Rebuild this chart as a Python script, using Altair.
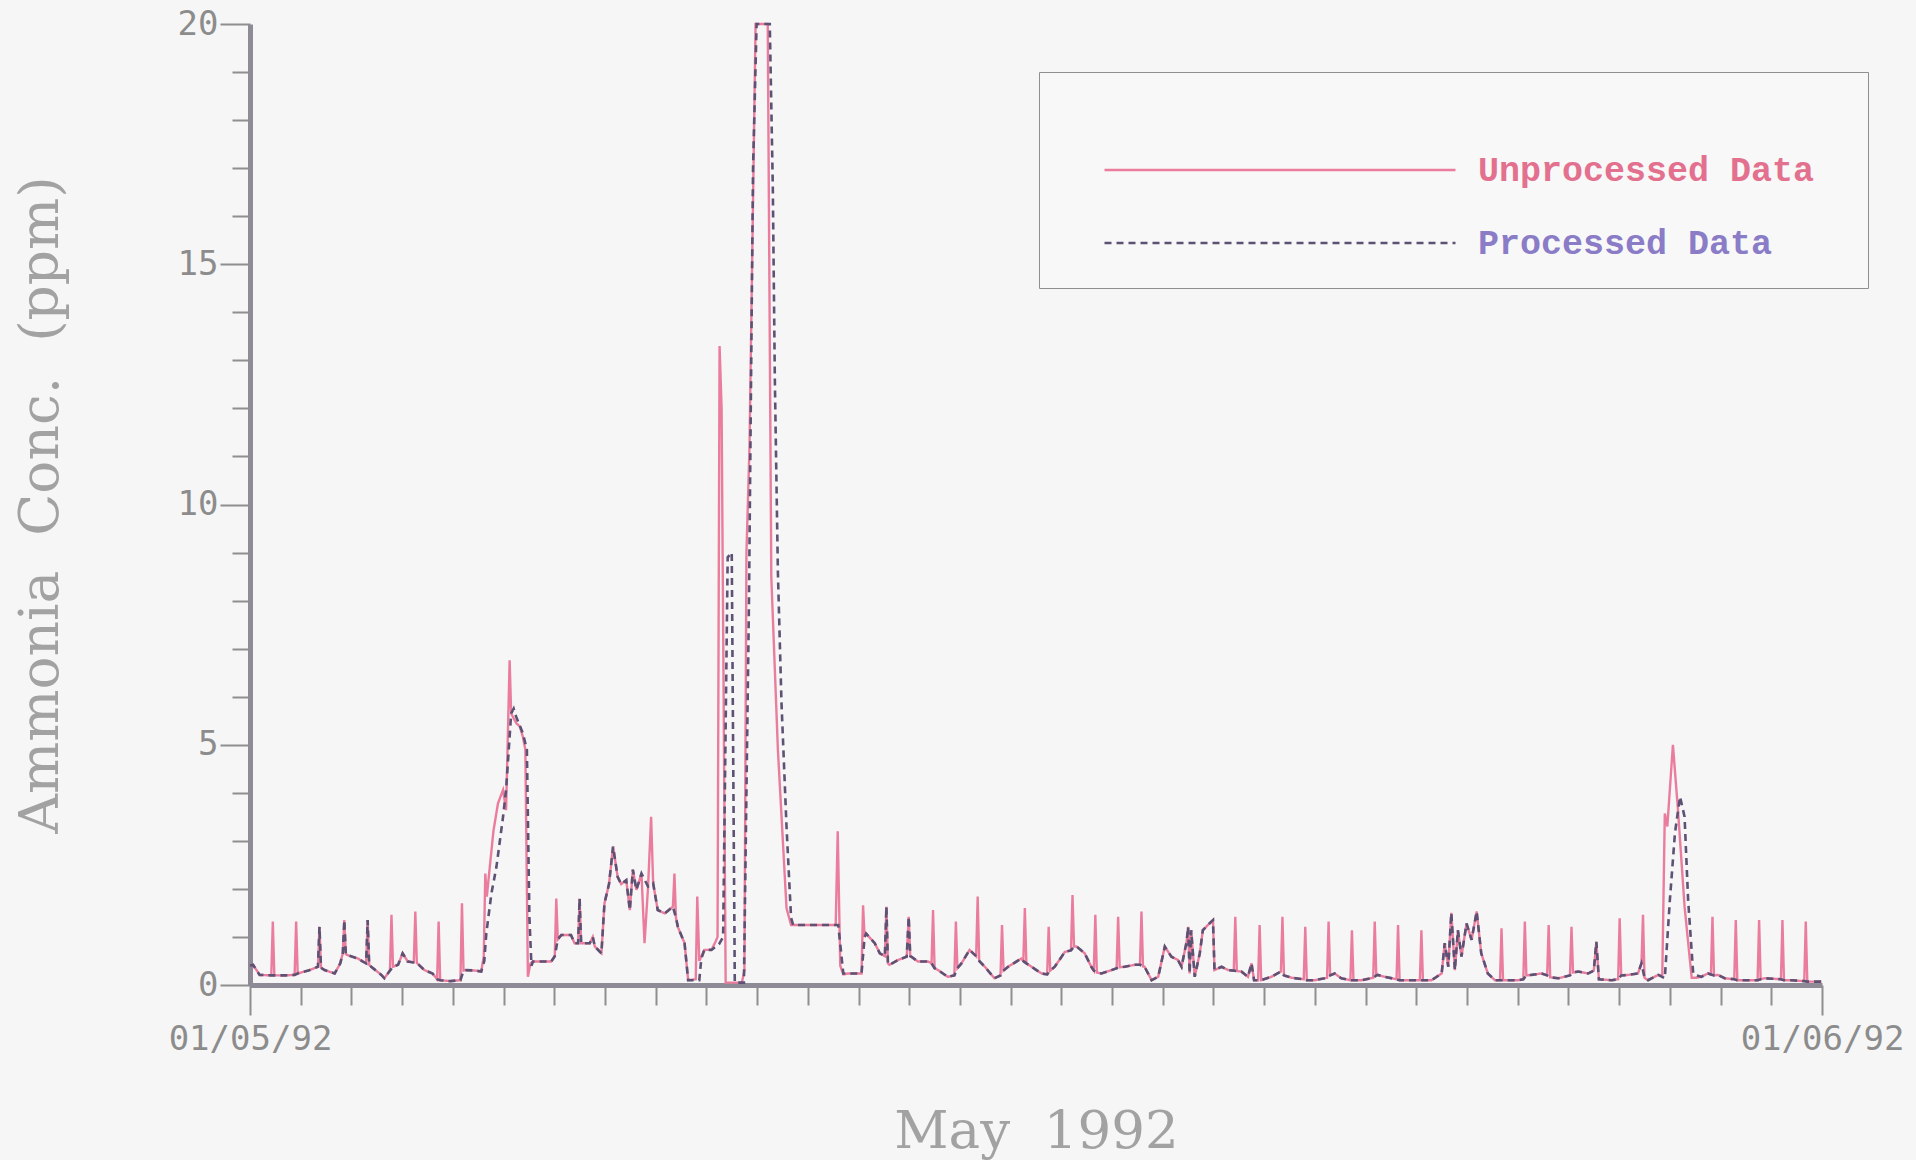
import altair as alt
import pandas as pd

# Time is in days since 00:00 on 1 May 1992, concentration in ppm.

# Stretches where the processed record is identical to the raw analyser output
shared_1_5may = [
    (0.00, 0.40), (0.06, 0.42), (0.19, 0.21), (0.42, 0.20), (0.48, 0.20), (0.70, 0.20),
    (0.88, 0.21), (0.94, 0.24), (1.15, 0.30), (1.34, 0.38), (1.37, 1.21), (1.40, 0.36),
    (1.47, 0.31), (1.67, 0.24), (1.78, 0.45), (1.83, 0.66), (1.86, 1.35), (1.89, 0.64),
    (1.93, 0.62), (2.13, 0.55), (2.22, 0.49), (2.29, 0.45), (2.32, 1.35), (2.35, 0.42),
    (2.39, 0.38), (2.59, 0.21), (2.65, 0.14), (2.76, 0.30), (2.82, 0.38), (2.92, 0.42),
    (3.01, 0.66), (3.11, 0.49), (3.23, 0.47), (3.29, 0.46), (3.44, 0.31), (3.60, 0.24),
    (3.69, 0.12), (3.75, 0.10), (3.95, 0.08), (4.15, 0.10), (4.21, 0.30), (4.26, 0.31),
    (4.45, 0.30), (4.56, 0.28),
]
shared_6_9may = [
    (5.58, 0.49), (5.94, 0.49), (6.01, 0.60), (6.07, 0.95), (6.14, 1.04), (6.33, 1.04),
    (6.40, 0.87), (6.47, 0.87), (6.50, 1.80), (6.53, 0.87), (6.70, 0.87), (6.76, 1.00),
    (6.80, 0.80), (6.93, 0.66), (6.99, 1.70), (7.08, 2.10), (7.16, 2.88), (7.25, 2.25),
    (7.32, 2.10), (7.42, 2.18), (7.49, 1.56), (7.55, 2.40), (7.62, 1.98), (7.72, 2.32),
    (7.85, 2.05), (7.95, 2.12), (8.04, 1.56), (8.18, 1.49), (8.34, 1.63), (8.40, 1.40),
    (8.44, 1.20), (8.57, 0.87),
]
shared_12_28may = [
    (11.79, 0.24), (12.06, 0.24), (12.12, 1.00), (12.15, 1.07), (12.32, 0.87), (12.42, 0.66),
    (12.52, 0.60), (12.55, 1.63), (12.58, 0.45), (12.61, 0.42), (12.78, 0.52), (12.95, 0.59),
    (12.99, 1.42), (13.02, 0.60), (13.04, 0.59), (13.17, 0.49), (13.37, 0.49), (13.44, 0.45),
    (13.50, 0.35), (13.57, 0.31), (13.76, 0.17), (13.89, 0.20), (13.95, 0.35), (14.03, 0.45),
    (14.19, 0.73), (14.32, 0.60), (14.38, 0.50), (14.49, 0.38), (14.68, 0.14), (14.80, 0.20),
    (14.86, 0.30), (14.95, 0.38), (15.21, 0.55), (15.25, 0.50), (15.31, 0.45), (15.41, 0.38),
    (15.61, 0.24), (15.72, 0.22), (15.78, 0.30), (15.87, 0.38), (16.07, 0.69), (16.19, 0.72),
    (16.25, 0.80), (16.30, 0.80), (16.46, 0.66), (16.59, 0.38), (16.64, 0.30), (16.70, 0.26),
    (16.79, 0.24), (16.99, 0.31), (17.09, 0.35), (17.15, 0.37), (17.25, 0.38), (17.45, 0.42),
    (17.55, 0.42), (17.61, 0.39), (17.64, 0.38), (17.78, 0.10), (17.91, 0.17), (18.04, 0.80),
    (18.17, 0.59), (18.30, 0.52), (18.37, 0.38), (18.47, 0.90), (18.50, 1.21), (18.53, 0.24),
    (18.56, 1.14), (18.63, 0.17), (18.73, 0.66), (18.79, 1.14), (18.92, 1.28), (18.99, 1.35),
    (19.02, 0.31), (19.16, 0.38), (19.29, 0.31), (19.40, 0.30), (19.46, 0.29), (19.55, 0.28),
    (19.68, 0.17), (19.75, 0.45), (19.80, 0.10), (19.88, 0.10), (19.94, 0.10), (20.14, 0.17),
    (20.33, 0.28), (20.39, 0.20), (20.54, 0.15), (20.78, 0.12), (20.84, 0.10), (21.00, 0.10),
    (21.24, 0.15), (21.30, 0.20), (21.39, 0.24), (21.52, 0.14), (21.70, 0.10), (21.76, 0.10),
    (21.92, 0.10), (22.15, 0.15), (22.21, 0.20), (22.24, 0.21), (22.38, 0.17), (22.61, 0.12),
    (22.67, 0.10), (22.90, 0.10), (23.07, 0.10), (23.13, 0.10), (23.30, 0.10), (23.50, 0.24),
    (23.56, 0.87), (23.63, 0.38), (23.69, 1.50), (23.76, 0.31), (23.82, 1.14), (23.89, 0.59),
    (23.99, 1.28), (24.09, 0.94), (24.19, 1.53), (24.28, 0.66), (24.41, 0.24), (24.55, 0.10),
    (24.65, 0.10), (24.71, 0.10), (25.01, 0.10), (25.11, 0.12), (25.17, 0.20), (25.27, 0.21),
    (25.47, 0.24), (25.58, 0.20), (25.64, 0.16), (25.80, 0.14), (26.03, 0.20), (26.09, 0.26),
    (26.19, 0.28), (26.39, 0.24), (26.50, 0.30), (26.55, 0.90), (26.60, 0.12), (26.85, 0.10),
    (26.98, 0.12), (27.04, 0.20), (27.18, 0.21), (27.37, 0.24), (27.44, 0.45), (27.50, 0.15),
    (27.57, 0.10), (27.77, 0.21),
]
shared_29_31may = [
    (28.62, 0.17), (28.75, 0.24), (28.81, 0.22), (28.87, 0.20), (28.95, 0.21), (29.08, 0.14),
    (29.27, 0.12), (29.33, 0.10), (29.48, 0.10), (29.73, 0.10), (29.79, 0.12), (29.87, 0.14),
    (30.19, 0.12), (30.25, 0.10), (30.39, 0.10), (30.65, 0.08), (30.71, 0.07), (30.79, 0.07),
    (30.99, 0.07),
]

# Single-sample excursions (calibration cycles) removed by processing
spikes = [
    (0.45, 1.32), (0.91, 1.32), (2.79, 1.46), (3.26, 1.53), (3.72, 1.32), (4.18, 1.70),
    (6.04, 1.80), (7.78, 0.87), (7.91, 3.50), (8.37, 2.32),
    (12.09, 1.66), (13.47, 1.56), (13.92, 1.32), (14.35, 1.84), (14.83, 1.25), (15.28, 1.60),
    (15.75, 1.21), (16.22, 1.87), (16.67, 1.46), (17.12, 1.42), (17.58, 1.53), (19.43, 1.42),
    (19.91, 1.25), (20.36, 1.42), (20.81, 1.21), (21.27, 1.32), (21.73, 1.14), (22.18, 1.32),
    (22.64, 1.25), (23.10, 1.14), (24.68, 1.18), (25.14, 1.32), (25.61, 1.25), (26.06, 1.21),
    (27.01, 1.39), (27.47, 1.46), (28.84, 1.42), (29.30, 1.35), (29.76, 1.35), (30.22, 1.35),
    (30.68, 1.32),
]

# Episodes where the two records differ
raw_5may = [
    (4.61, 0.60), (4.64, 2.32), (4.67, 1.84), (4.80, 3.20), (4.89, 3.78), (4.99, 4.06),
    (5.05, 3.64), (5.12, 6.76), (5.15, 5.65), (5.25, 5.45), (5.32, 5.38), (5.38, 5.17),
    (5.43, 4.90), (5.48, 0.17), (5.53, 0.45),
]
proc_5may = [
    (4.62, 0.50), (4.66, 1.07), (4.76, 1.90), (4.86, 2.46), (4.99, 3.50), (5.05, 4.06),
    (5.15, 5.65), (5.20, 5.75), (5.25, 5.58), (5.38, 5.24), (5.46, 4.90), (5.51, 1.40),
    (5.55, 0.40),
]
raw_10may = [
    (8.64, 0.10), (8.79, 0.12), (8.82, 1.84), (8.86, 0.50), (8.96, 0.73), (9.10, 0.73),
    (9.18, 0.90), (9.22, 1.00), (9.26, 13.30), (9.30, 12.00), (9.38, 0.05), (9.70, 0.05),
    (9.75, 0.30), (9.79, 9.00), (9.85, 11.20), (9.97, 20.00), (10.21, 20.00), (10.28, 8.50),
    (10.41, 4.90), (10.58, 1.60), (10.67, 1.25), (11.55, 1.25), (11.59, 3.20), (11.64, 0.40),
    (11.70, 0.22),
]
proc_10may = [
    (8.64, 0.10), (8.86, 0.10), (8.90, 0.55), (8.96, 0.73), (9.10, 0.73), (9.25, 0.85),
    (9.33, 1.00), (9.42, 8.90), (9.50, 9.00), (9.56, 0.05), (9.74, 0.05), (9.84, 8.00),
    (9.92, 17.00), (9.99, 20.00), (10.25, 20.00), (10.31, 16.60), (10.35, 12.60),
    (10.41, 8.60), (10.48, 5.90), (10.58, 3.30), (10.67, 1.40), (10.71, 1.25), (11.60, 1.25),
    (11.70, 0.24),
]
raw_28may = [
    (27.85, 0.20), (27.90, 3.57), (27.95, 3.30), (28.06, 5.00), (28.16, 3.64), (28.29, 1.63),
    (28.43, 0.15), (28.52, 0.15),
]
proc_28may = [
    (27.90, 0.14), (28.00, 1.77), (28.10, 3.16), (28.20, 3.92), (28.29, 3.50), (28.36, 1.77),
    (28.46, 0.24), (28.52, 0.20),
]

series_names = ["Unprocessed Data", "Processed Data"]
series_colors = ["#ea7d9d", "#5d5174"]
label_colors = ["#e2708e", "#8a7cc6"]
date_labels = ["01/05/92", "01/06/92"]
month_days = 31
NBSP = "\u00a0"
BLANK = "\u2800"  # blank glyph that is not stripped as whitespace; keeps a right margin in the legend
x_title = f"May{NBSP} 1992"
y_title = f"Ammonia{NBSP} Conc.{NBSP} (ppm)"

shared = shared_1_5may + shared_6_9may + shared_12_28may + shared_29_31may
raw_pts = sorted(shared + spikes + raw_5may + raw_10may + raw_28may)
proc_pts = sorted(shared + proc_5may + proc_10may + proc_28may)

rows = [(d, v, series_names[0]) for d, v in raw_pts] + \
       [(d, v, series_names[1]) for d, v in proc_pts]
df = pd.DataFrame(rows, columns=["day", "ppm", "series"])
df["seq"] = range(len(df))

legend = alt.Legend(
    title=" ", titleFontSize=40, titlePadding=10,
    orient="none", legendX=789, legendY=48,
    symbolType="M-9,0H9", symbolSize=1521, symbolStrokeWidth=2.5,
    symbolOffset=193, labelOffset=177, labelLimit=800,
    labelExpr=f"datum.label + '{BLANK}'",
    labelFont="Liberation Mono", labelFontSize=35, labelFontWeight="bold",
    labelColor={"expr": f"datum.value === '{series_names[0]}' ? '{label_colors[0]}' : '{label_colors[1]}'"},
    rowPadding=34, padding=27, strokeColor="#8f8f8f", fillColor="#f8f8f8",
)

x_axis = alt.Axis(
    values=list(range(0, month_days + 1)),
    labelExpr=f"datum.value === 0 ? '{date_labels[0]}' : datum.value === {month_days} ? '{date_labels[1]}' : ''",
    tickSize={"condition": {"test": f"datum.value === 0 || datum.value === {month_days}", "value": 30}, "value": 20},
    labelFont="DejaVu Sans Mono", labelFontSize=34, labelColor="#8c8c8c", labelPadding=7,
    labelOverlap=False, labelFlush=False,
    domainColor="#8e8b96", domainWidth=5, tickColor="#8f8f8f", tickWidth=2, grid=False,
    title=x_title, titleFont="DejaVu Serif", titleFontSize=53, titleFontWeight="normal",
    titleColor="#a2a2a2", titlePadding=49,
)
y_axis = alt.Axis(
    values=list(range(0, 21)),
    labelExpr="datum.value % 5 === 0 ? datum.label : ''",
    tickSize={"condition": {"test": "datum.value % 5 === 0", "value": 30}, "value": 18},
    labelFont="DejaVu Sans Mono", labelFontSize=34, labelColor="#8c8c8c", labelPadding=2,
    labelOverlap=False,
    domainColor="#8e8b96", domainWidth=5, tickColor="#8f8f8f", tickWidth=2, grid=False,
    title=y_title, titleFont="DejaVu Serif", titleFontSize=55,
    titleFontWeight="normal", titleColor="#a2a2a2", titlePadding=108,
)

x_enc = alt.X("day:Q", scale=alt.Scale(domain=[0, month_days], nice=False), axis=x_axis)
y_enc = alt.Y("ppm:Q", scale=alt.Scale(domain=[0, 20], nice=False), axis=y_axis)
color_enc = alt.Color("series:N", scale=alt.Scale(domain=series_names, range=series_colors), legend=legend)
dash_enc = alt.StrokeDash("series:N", scale=alt.Scale(domain=series_names, range=[[1, 0], [7, 5]]),
                          legend=legend)

base = alt.Chart(df).encode(x=x_enc, y=y_enc, color=color_enc, strokeDash=dash_enc,
                            order=alt.Order("seq:Q"))

raw_layer = base.transform_filter(alt.datum.series == series_names[0]).mark_line(strokeWidth=2.4)
proc_layer = base.transform_filter(alt.datum.series == series_names[1]).mark_line(strokeWidth=2.6)

chart = alt.layer(raw_layer, proc_layer).properties(
    width=1572, height=961,
    padding={"left": 250, "top": 24, "right": 94, "bottom": 175},
    autosize=alt.AutoSizeParams(type="none"),
).configure(background="#f6f6f6").configure_view(stroke=None)

chart.save("out.html", embed_options={"renderer": "svg", "actions": False})
